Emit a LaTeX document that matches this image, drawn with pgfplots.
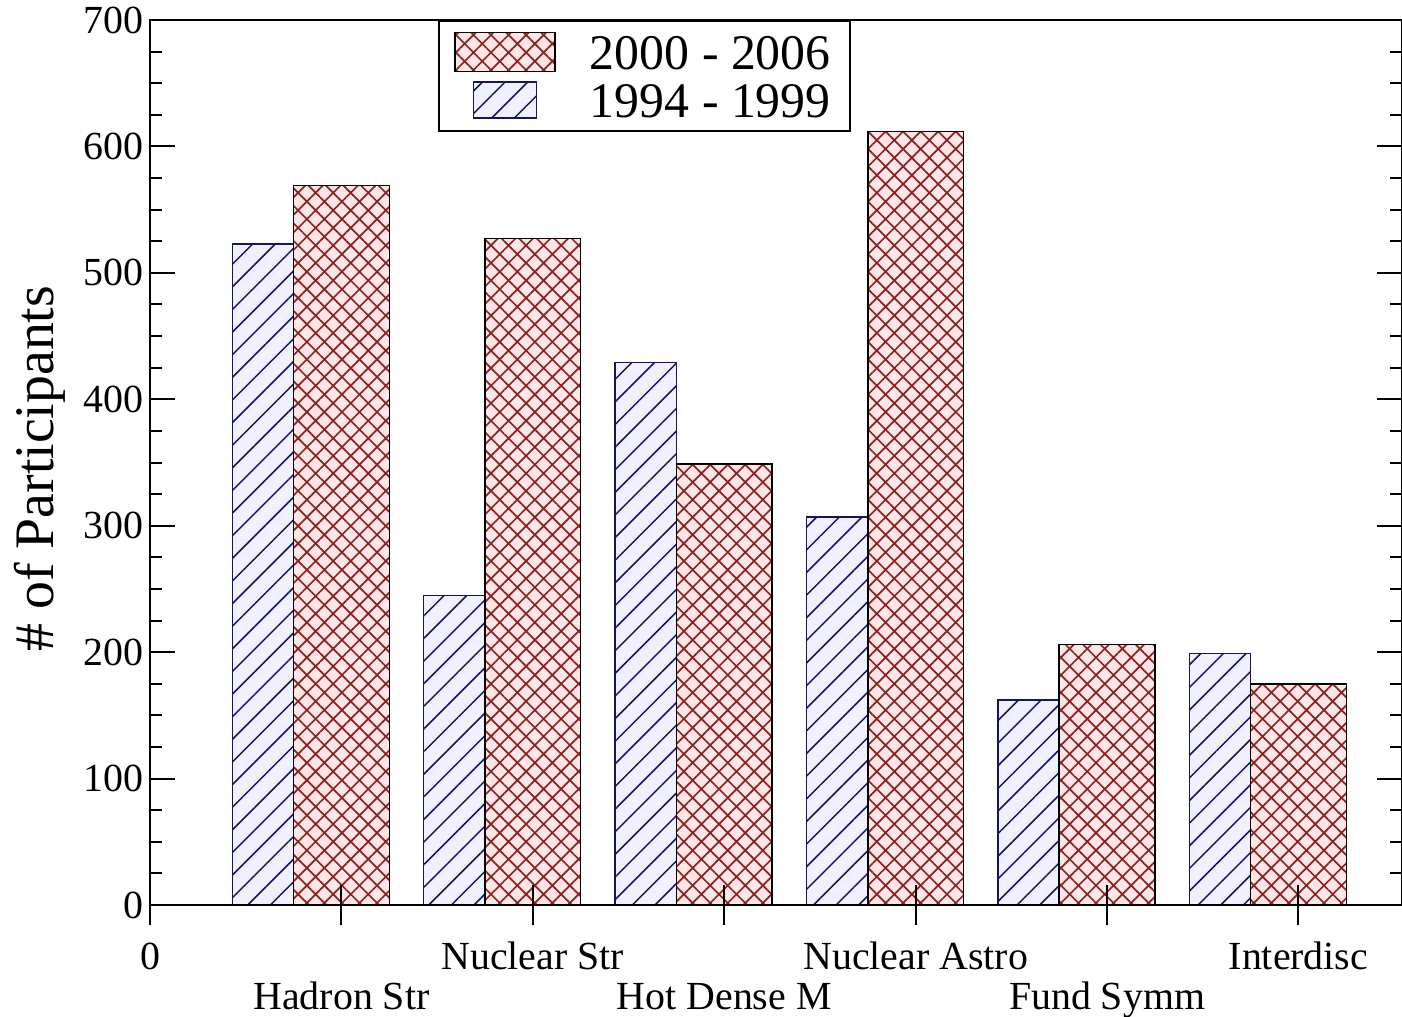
\documentclass[border=0pt]{standalone}
\usepackage{pgfplots}
\pgfplotsset{compat=1.18}
\usepackage{fontspec}
\setmainfont{Liberation Serif}
\usetikzlibrary{patterns.meta}
\definecolor{bfill}{HTML}{F0F0FF}
\definecolor{bline}{HTML}{15155F}
\definecolor{rfill}{HTML}{FFE6E6}
\definecolor{rline}{HTML}{8A2222}
\pgfplotsset{
  oldleg/.style={legend image code/.code={\draw[##1] (9.25bp,-9bp) rectangle (40.75bp,9bp);}},
  newleg/.style={legend image code/.code={\draw[##1] (0bp,-9.75bp) rectangle (50bp,9.75bp);}},
}
\pgfplotstableread{
x y
1 523
2 245
3 429
4 307
5 162
6 199
}\olddata
\pgfplotstableread{
x y
1 569
2 527
3 349
4 612
5 206
6 175
}\newdata
\begin{document}
\begin{tikzpicture}
\begin{axis}[
  name=ax, scale only axis, width=626bp, height=442.5bp,
  xmin=0, xmax=6.541, ymin=0, ymax=700,
  axis on top, axis line style={line width=1bp},
  ytick={0,100,...,700}, minor y tick num=3,
  tick align=inside, major tick length=12.5bp, minor tick length=6bp,
  tick style={line width=1bp, black},
  xtick=\empty, xtick pos=bottom,
  extra x ticks={0,1,2,3,4,5,6},
  extra x tick labels={0,{\raisebox{-20bp}{Hadron Str}},Nuclear Str,{\raisebox{-20bp}{Hot Dense M}},Nuclear Astro,{\raisebox{-20bp}{Fund Symm}},Interdisc},
  extra x tick style={tick align=center, major tick length=20bp, xtick pos=bottom},
  xticklabel style={anchor=base, yshift=-22bp},
  tick label style={font=\fontsize{20}{20}\selectfont},
  /pgf/number format/assume math mode=true,
  ylabel={\# of Participants},
  ylabel style={font=\fontsize{28}{28}\selectfont, at={(rel axis cs:-0.088,0.493)}, anchor=center},
  reverse legend,
  legend style={at={(rel axis cs:0.2304,1)}, anchor=north west, draw=black, line width=1bp, fill=white,
    font=\fontsize{25}{25}\selectfont, inner xsep=7.5bp, inner ysep=3.6bp, row sep=0pt,
    cells={anchor=west, inner sep=0pt, text height=18.5bp, text depth=3.45bp},
    /tikz/every odd column/.append style={column sep=15bp}},
]
\addplot[ybar, bar width=0.32, bar shift=-0.41, fill=bfill, draw=bline, line width=0.75bp,
  postaction={pattern={Lines[angle=45,distance=8bp,line width=0.75bp]}, pattern color=bline},
  oldleg]
  table[x=x,y=y] {\olddata};
\addlegendentry{1994 - 1999}
\addplot[ybar, bar width=0.5, bar shift=0, fill=rfill, draw=black, line width=0.75bp,
  postaction={pattern={Hatch[angle=45,distance=6.2bp,line width=0.85bp]}, pattern color=rline},
  newleg]
  table[x=x,y=y] {\newdata};
\addlegendentry{2000 - 2006}
\end{axis}
\pgfresetboundingbox
\useasboundingbox (ax.south west) ++(-75bp,-56bp) rectangle ++(701bp,508.5bp);
\end{tikzpicture}
\end{document}
